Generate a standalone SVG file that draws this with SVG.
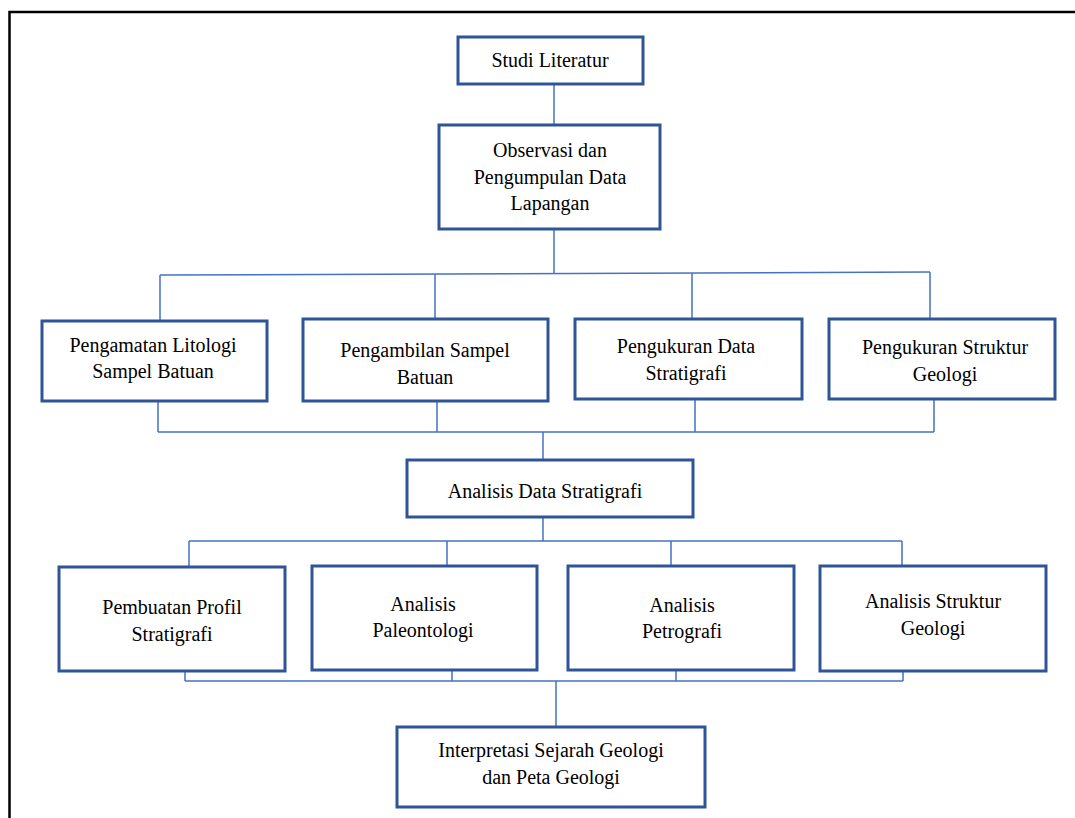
<svg xmlns="http://www.w3.org/2000/svg" width="1075" height="818" viewBox="0 0 1075 818">
<style>
.box{fill:#fff;stroke:#2F5597;stroke-width:3}
.c{fill:none;stroke:#4472C4;stroke-width:1.5}
text{font-family:"Liberation Serif","Times New Roman",serif;font-size:20px;fill:#000;text-anchor:middle}
</style>
<rect width="1075" height="818" fill="#fff"/>
<path d="M9.5 818 V12 H1075" fill="none" stroke="#000" stroke-width="2.5"/>
<g id="connectors">
<path class="c" d="M554 84 V125"/>
<path class="c" d="M554 229 V274"/>
<path class="c" d="M160 275 L930 272"/>
<path class="c" d="M160 275 V320 M435 274 V319 M692 273 V319 M930 272 V319"/>
<path class="c" d="M158 401 V432 M437 401 V432 M695 399 V432 M934 399 V432 M158 432 H934"/>
<path class="c" d="M543 432 V460"/>
<path class="c" d="M543 517 V541"/>
<path class="c" d="M189 541 H902"/>
<path class="c" d="M189 541 V567 M447 541 V566 M671 541 V566 M902 541 V566"/>
<path class="c" d="M185 671 V681 M452 670 V681 M676 670 V681 M903 671 V681 M185 681 H903"/>
<path class="c" d="M556 681 V702 M556 702 V727"/>
</g>
<g id="n1"><rect class="box" x="458" y="37" width="185" height="47"/><text x="550" y="67">Studi Literatur</text></g>
<g id="n2"><rect class="box" x="439" y="125" width="221" height="104"/><text x="550" y="157">Observasi dan</text><text x="550" y="184">Pengumpulan Data</text><text x="550" y="210">Lapangan</text></g>
<g id="n3"><rect class="box" x="42" y="321" width="225" height="80"/><text x="153" y="352">Pengamatan Litologi</text><text x="153" y="378">Sampel Batuan</text></g>
<g id="n4"><rect class="box" x="303" y="319" width="245" height="82"/><text x="425" y="357">Pengambilan Sampel</text><text x="425" y="384">Batuan</text></g>
<g id="n5"><rect class="box" x="575" y="319" width="227" height="80"/><text x="686" y="353">Pengukuran Data</text><text x="686" y="380">Stratigrafi</text></g>
<g id="n6"><rect class="box" x="829" y="319" width="226" height="80"/><text x="945" y="354">Pengukuran Struktur</text><text x="945" y="381">Geologi</text></g>
<g id="n7"><rect class="box" x="407" y="460" width="286" height="57"/><text x="545" y="498">Analisis Data Stratigrafi</text></g>
<g id="n8"><rect class="box" x="59" y="567" width="226" height="104"/><text x="172" y="614">Pembuatan Profil</text><text x="172" y="641">Stratigrafi</text></g>
<g id="n9"><rect class="box" x="312" y="566" width="225" height="104"/><text x="423" y="611">Analisis</text><text x="423" y="637">Paleontologi</text></g>
<g id="n10"><rect class="box" x="568" y="566" width="226" height="104"/><text x="682" y="612">Analisis</text><text x="682" y="638">Petrografi</text></g>
<g id="n11"><rect class="box" x="820" y="566" width="226" height="105"/><text x="933" y="608">Analisis Struktur</text><text x="933" y="635">Geologi</text></g>
<g id="n12"><rect class="box" x="397" y="727" width="308" height="80"/><text x="551" y="757">Interpretasi Sejarah Geologi</text><text x="551" y="784">dan Peta Geologi</text></g>
</svg>
